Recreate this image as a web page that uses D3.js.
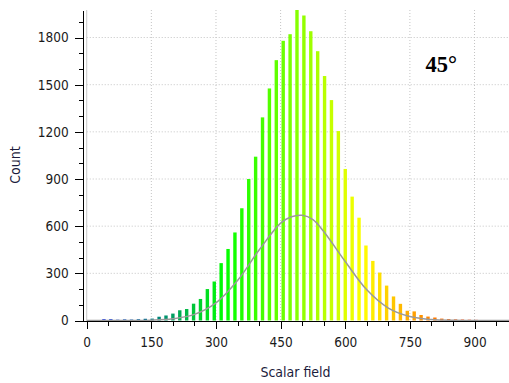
<!DOCTYPE html>
<html>
  <head>
    <meta charset="utf-8">
    <title>Scalar field histogram</title>
    <style>
      body { margin: 0; background: #fff; }
      svg { display: block; }
      .tick text { font-family: "DejaVu Sans Condensed", "DejaVu Sans", sans-serif; font-stretch: condensed; font-size: 13.5px; fill: #1a1a1a; }
      .axis path, .axis line { stroke: #000; shape-rendering: crispEdges; }
    </style>
  </head>
  <body>
    <script src="https://d3js.org/d3.v7.min.js"></script>
    <script>
    // histogram bins: centre of each bin (scalar field) and its count
    var binCenters = [8, 24, 40, 56, 72, 88, 104, 120, 136, 152, 168, 184, 200, 216, 232, 248, 264, 280, 296, 312,
                      328, 344, 360, 376, 392, 408, 424, 440, 456, 472, 488, 504, 520, 536, 552, 568, 584, 600, 616, 632,
                      648, 664, 680, 696, 712, 728, 744, 760, 776, 792, 808, 824, 840, 856, 872, 888, 904, 920, 936, 952];
    var counts = [2, 3, 8, 8, 5, 7, 6, 8, 11, 12, 24, 32, 44, 65, 73, 107, 137, 200, 248, 365,
                  455, 560, 714, 900, 1042, 1292, 1476, 1656, 1779, 1821, 1975, 1940, 1840, 1713, 1555, 1402, 1205, 964, 788, 654,
                  477, 379, 305, 222, 153, 106, 62, 58, 35, 25, 19, 12, 9, 7, 6, 5, 4, 3, 3, 2];

    // fitted gaussian
    var curveX = [0, 50, 100, 150, 200, 250, 300, 350, 400, 450, 475, 500, 525, 550, 600, 650, 700, 750, 800, 850, 900, 950, 980];
    var curveY = [0, 0, 0.4, 2, 11, 39, 112, 254, 448, 619, 660, 669, 642, 566, 375, 195, 79, 25, 6, 1, 0, 0, 0];

    var xTicks = [0, 150, 300, 450, 600, 750, 900];
    var yTicks = [0, 300, 600, 900, 1200, 1500, 1800];

    var w = 509, h = 383;
    var svg = d3.select("body").append("svg")
                .attr("width", w)
                .attr("height", h);

    var x = d3.scaleLinear().domain([-9.3, 980]).range([82.7, 509]);
    var y = d3.scaleLinear().domain([0, 1975]).range([320.5, 10]);

    var color = d3.scaleLinear()
                  .domain([0, 320, 640, 960])
                  .range(["#0000ff", "#00ff00", "#ffff00", "#ff0000"]);

    // grid
    svg.append("g").selectAll("line")
       .data(xTicks.slice(1))
       .enter().append("line")
       .attr("x1", function(d){ return x(d); })
       .attr("x2", function(d){ return x(d); })
       .attr("y1", y.range()[1])
       .attr("y2", y(0))
       .attr("stroke", "#c4c4c4")
       .attr("stroke-dasharray", "1,2");
    svg.append("g").selectAll("line")
       .data(yTicks.slice(1))
       .enter().append("line")
       .attr("x1", x(0))
       .attr("x2", w)
       .attr("y1", function(d){ return y(d); })
       .attr("y2", function(d){ return y(d); })
       .attr("stroke", "#c4c4c4")
       .attr("stroke-dasharray", "1,2");
    // zero line
    svg.append("line")
       .attr("x1", x(0)).attr("x2", x(0))
       .attr("y1", y.range()[1]).attr("y2", y(0))
       .attr("stroke", "#c8c8c8");

    // bars
    var bw = 3.4;
    svg.append("g").selectAll("rect")
       .data(counts)
       .enter().append("rect")
       .attr("x", function(d, i){ return x(binCenters[i]) - bw / 2; })
       .attr("y", function(d){ return y(d); })
       .attr("width", bw)
       .attr("height", function(d){ return y(0) - y(d); })
       .attr("fill", function(d, i){ return color(binCenters[i]); });

    // gaussian
    var line = d3.line()
                 .x(function(d, i){ return x(curveX[i]); })
                 .y(function(d){ return y(d); })
                 .curve(d3.curveCatmullRom);
    svg.append("path")
       .attr("d", line(curveY))
       .attr("fill", "none")
       .attr("stroke", "#9a9a9a")
       .attr("stroke-width", 1.5);

    // axes
    svg.append("g").attr("class", "axis")
       .attr("transform", "translate(82.7,0)")
       .call(d3.axisLeft(y).tickValues(yTicks).tickFormat(d3.format("d")).tickSize(8).tickPadding(6).tickSizeOuter(0));
    svg.append("g").attr("class", "axis")
       .attr("transform", "translate(82.7,0)")
       .call(d3.axisLeft(y).tickValues(d3.range(0, 1901, 100)).tickSize(4).tickFormat("").tickSizeOuter(0))
       .select(".domain").remove();

    svg.append("g").attr("class", "axis")
       .attr("transform", "translate(0," + y(0) + ")")
       .call(d3.axisBottom(x).tickValues(xTicks).tickFormat(d3.format("d")).tickSize(8).tickPadding(9).tickSizeOuter(0));
    svg.append("g").attr("class", "axis")
       .attr("transform", "translate(0," + y(0) + ")")
       .call(d3.axisBottom(x).tickValues(d3.range(0, 951, 50)).tickSize(5).tickFormat("").tickSizeOuter(0))
       .select(".domain").remove();

    // labels
    svg.append("text")
       .attr("transform", "translate(20,165) rotate(-90)")
       .attr("text-anchor", "middle")
       .style("font-family", "'DejaVu Sans Condensed', 'DejaVu Sans', sans-serif")
       .style("font-stretch", "condensed")
       .style("font-size", "14px")
       .style("fill", "#1c1c3c")
       .text("Count");
    svg.append("text")
       .attr("x", 295.5)
       .attr("y", 377)
       .attr("text-anchor", "middle")
       .style("font-family", "'DejaVu Sans Condensed', 'DejaVu Sans', sans-serif")
       .style("font-stretch", "condensed")
       .style("font-size", "14px")
       .style("fill", "#1c1c3c")
       .text("Scalar field");
    svg.append("text")
       .attr("x", 425.5)
       .attr("y", 72)
       .attr("font-family", "Liberation Serif, DejaVu Serif")
       .attr("font-weight", "bold")
       .attr("font-size", 22.5)
       .text("45°");
    </script>
  </body>
</html>
